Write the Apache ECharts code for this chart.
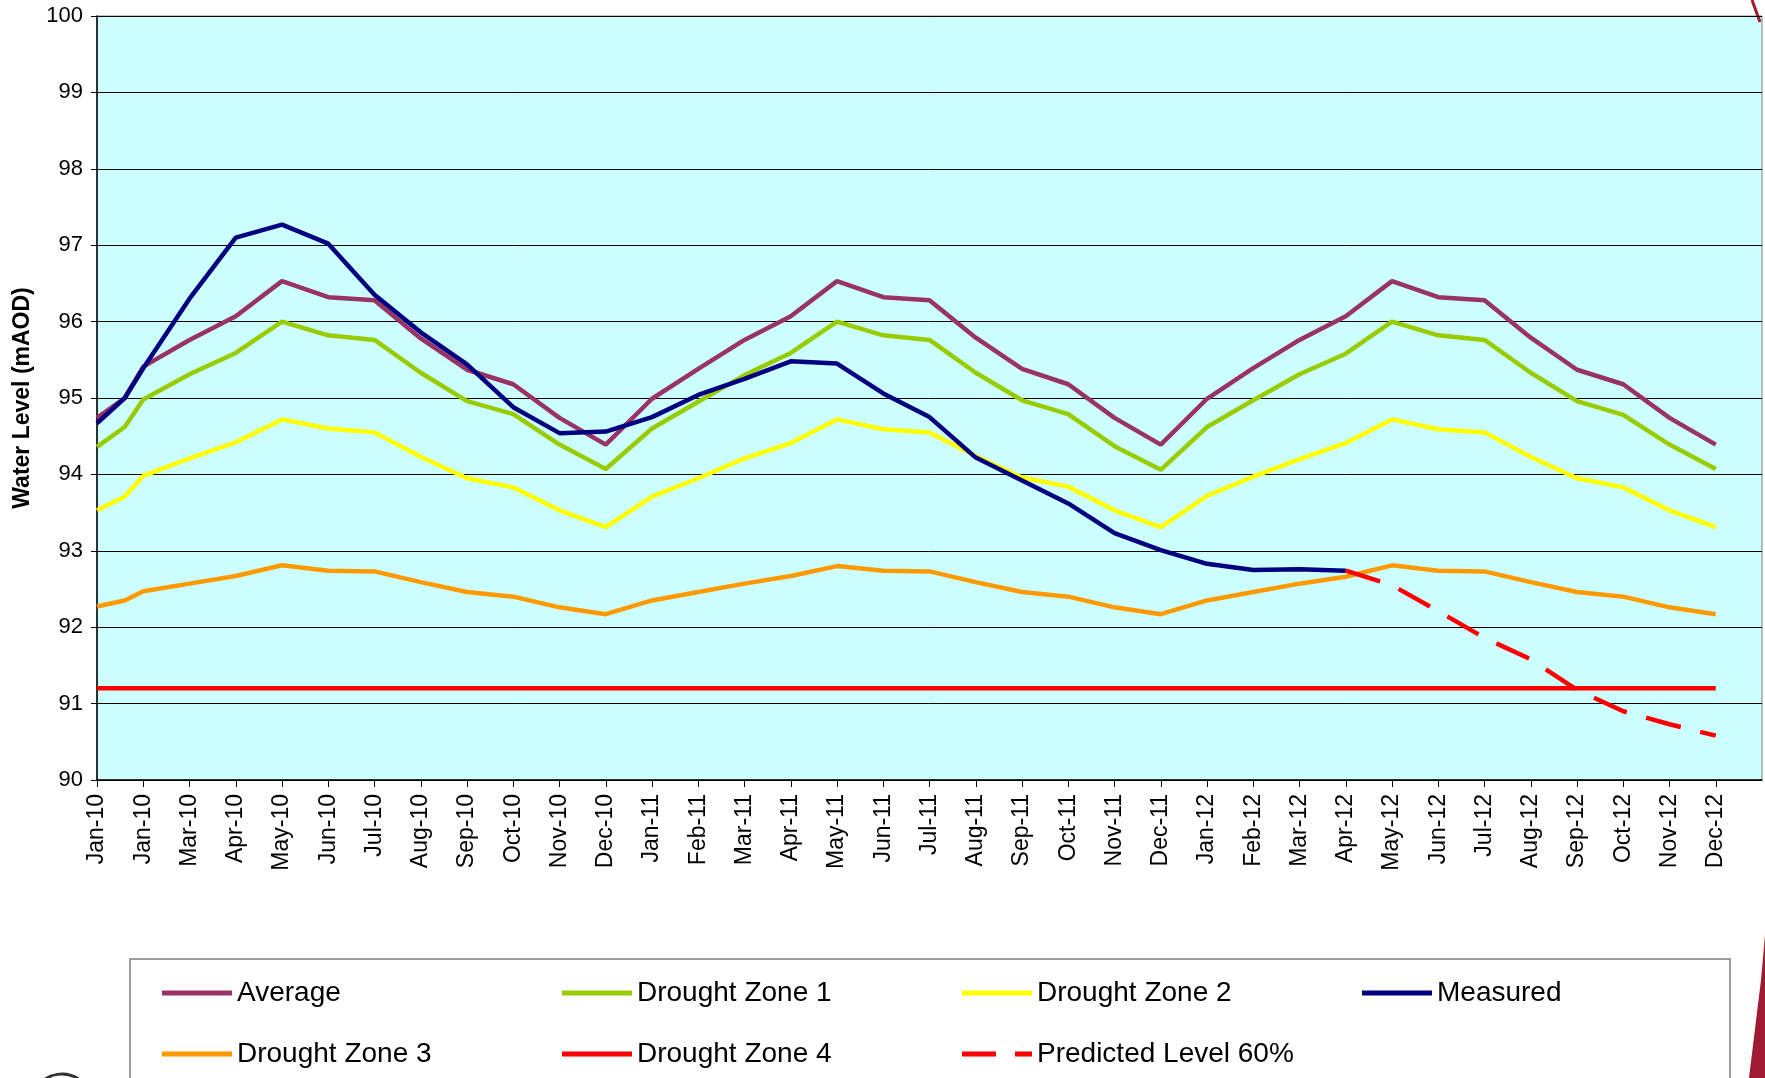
<!DOCTYPE html>
<html>
<head>
<meta charset="utf-8">
<script src="https://cdn.jsdelivr.net/npm/echarts@6/dist/echarts.min.js"></script>
<style>
body{margin:0;background:#fff;}
#main{width:1765px;height:1078px;}
</style>
</head>
<body>
<div id="main"></div>
<script>
//x positions in tick steps (0 = first Jan-10 tick)
var xPos = [0, 0.6, 1, 2, 3, 4, 5, 6, 7, 8, 9, 10, 11, 12, 13, 14, 15, 16, 17, 18, 19, 20, 21, 22, 23, 24, 25, 26, 27, 28, 29, 30, 31, 32, 33, 34, 35];
var tickLabels = ['Jan-10','Jan-10','Mar-10','Apr-10','May-10','Jun-10','Jul-10','Aug-10','Sep-10','Oct-10','Nov-10','Dec-10',
	'Jan-11','Feb-11','Mar-11','Apr-11','May-11','Jun-11','Jul-11','Aug-11','Sep-11','Oct-11','Nov-11','Dec-11',
	'Jan-12','Feb-12','Mar-12','Apr-12','May-12','Jun-12','Jul-12','Aug-12','Sep-12','Oct-12','Nov-12','Dec-12'];

var average = [94.74, 95.0, 95.41, 95.76, 96.07, 96.53, 96.32, 96.28, 95.78, 95.37, 95.18, 94.74, 94.39, 94.99, 95.38, 95.76, 96.07, 96.53, 96.32, 96.28, 95.79, 95.38, 95.18, 94.74, 94.39, 94.99, 95.39, 95.76, 96.07, 96.53, 96.32, 96.28, 95.79, 95.37, 95.18, 94.74, 94.39];
var droughtZone1 = [94.36, 94.62, 94.98, 95.31, 95.59, 96.0, 95.82, 95.76, 95.33, 94.96, 94.79, 94.39, 94.07, 94.60, 94.95, 95.30, 95.59, 96.0, 95.82, 95.76, 95.33, 94.97, 94.79, 94.37, 94.06, 94.62, 94.97, 95.31, 95.58, 96.0, 95.82, 95.76, 95.33, 94.96, 94.78, 94.39, 94.07];
var droughtZone2 = [93.53, 93.71, 93.98, 94.21, 94.42, 94.72, 94.60, 94.55, 94.23, 93.95, 93.83, 93.53, 93.31, 93.71, 93.95, 94.21, 94.41, 94.72, 94.59, 94.55, 94.24, 93.96, 93.84, 93.53, 93.31, 93.72, 93.97, 94.20, 94.41, 94.72, 94.59, 94.55, 94.23, 93.95, 93.83, 93.53, 93.31];
var measured = [94.67, 95.0, 95.39, 96.30, 97.10, 97.27, 97.02, 96.35, 95.86, 95.44, 94.88, 94.54, 94.56, 94.75, 95.04, 95.25, 95.48, 95.45, 95.06, 94.75, 94.22, 93.92, 93.62, 93.23, 93.01, 92.83, 92.75, 92.76, 92.74];
var droughtZone3 = [92.27, 92.35, 92.47, 92.57, 92.67, 92.81, 92.74, 92.73, 92.59, 92.46, 92.40, 92.26, 92.17, 92.35, 92.46, 92.57, 92.67, 92.80, 92.74, 92.73, 92.59, 92.46, 92.40, 92.26, 92.17, 92.35, 92.46, 92.57, 92.66, 92.81, 92.74, 92.73, 92.59, 92.46, 92.40, 92.26, 92.17];
var droughtZone4 = [91.2, 91.2, 91.2, 91.2, 91.2, 91.2, 91.2, 91.2, 91.2, 91.2, 91.2, 91.2, 91.2, 91.2, 91.2, 91.2, 91.2, 91.2, 91.2, 91.2, 91.2, 91.2, 91.2, 91.2, 91.2, 91.2, 91.2, 91.2, 91.2, 91.2, 91.2, 91.2, 91.2, 91.2, 91.2, 91.2, 91.2];
var predictedX = [27, 28, 29, 30, 31, 32, 33, 34, 35];
var predicted = [92.74, 92.55, 92.21, 91.86, 91.58, 91.18, 90.90, 90.73, 90.58];

var FONT = "'Liberation Sans', Arial, sans-serif";
var DASH_ICON = 'path://M0,0h34v5h-34zM53,0h17v5h-17z';

//把x位置和数值拼成点
function pairs(xs, ys){
	var arr = [];
	for(var i=0;i<ys.length;i++){
		arr.push([xs[i], ys[i]]);
	}
	return arr;
}

var tickIdx = [];
for(var k=0;k<tickLabels.length;k++) tickIdx.push(k);

function lineSeries(name, xs, ys, color, dash){
	return {
		name : name,
		type : 'line',
		data : pairs(xs, ys),
		symbol : 'none',
		animation : false,
		lineStyle : { color : color, width : 4.5, type : dash || 'solid' },
		itemStyle : { color : color }
	};
}

//图例位置：两行四列
var legendPos = [
	['Average', 162, 979], ['Drought Zone 1', 562, 979], ['Drought Zone 2', 962, 979], ['Measured', 1362, 979],
	['Drought Zone 3', 162, 1040], ['Drought Zone 4', 562, 1040], ['Predicted Level 60%', 962, 1040]
];
var legends = [];
for(var j=0;j<legendPos.length;j++){
	legends.push({
		data : [legendPos[j][0]],
		left : legendPos[j][1],
		top : legendPos[j][2],
		padding : 0,
		icon : legendPos[j][0]=='Predicted Level 60%' ? DASH_ICON : 'rect',
		itemWidth : 70,
		itemHeight : 5,
		selectedMode : false,
		textStyle : { fontSize : 28, color : '#000', fontFamily : FONT }
	});
}

var myChart = echarts.init(document.getElementById('main'));
myChart.setOption({
	backgroundColor : '#fff',
	animation : false,
	legend : legends,
	grid : {
		left : 97, top : 16, width : 1665, height : 764,
		show : true, backgroundColor : '#CCFFFF', borderColor : '#808080', borderWidth : 1
	},
	xAxis : {
		type : 'value',
		min : 0, max : 36, interval : 1,
		axisLine : { lineStyle : { color : '#000', width : 1.5 } },
		axisTick : { show : true, length : 7, customValues : tickIdx, lineStyle : { color : '#000' } },
		splitLine : { show : false },
		axisLabel : {
			customValues : tickIdx,
			rotate : 90,
			margin : 14,
			fontSize : 23,
			color : '#000',
			fontFamily : FONT,
			formatter : function(v){ return tickLabels[Math.round(v)] || ''; }
		}
	},
	yAxis : {
		type : 'value',
		min : 90, max : 100, interval : 1,
		name : 'Water Level (mAOD)',
		nameLocation : 'middle',
		nameGap : 63,
		nameTextStyle : { fontSize : 23, fontWeight : 'bold', color : '#000', fontFamily : FONT },
		axisLine : { show : true, lineStyle : { color : '#000', width : 1.5 } },
		axisTick : { show : true, length : 6, lineStyle : { color : '#000' } },
		splitLine : { show : true, lineStyle : { color : '#000', width : 1 } },
		axisLabel : { margin : 14, fontSize : 22, color : '#000', fontFamily : FONT }
	},
	graphic : [
		{ type : 'rect', shape : { x : 130, y : 959, width : 1600, height : 140 },
			style : { fill : 'none', stroke : '#7f7f7f', lineWidth : 1.5 } },
		{ type : 'polygon', shape : { points : [[1765, 935], [1765, 1078], [1749, 1078], [1761, 980]] },
			style : { fill : '#9E1B32' } },
		{ type : 'line', shape : { x1 : 1752, y1 : 0, x2 : 1760, y2 : 22 },
			style : { stroke : '#9E1B32', lineWidth : 3 } },
		{ type : 'arc', shape : { cx : 62, cy : 1104, r : 30, startAngle : Math.PI * 1.2, endAngle : Math.PI * 1.8 },
			style : { stroke : '#333', lineWidth : 3, fill : 'none' } }
	],
	series : [
		lineSeries('Average', xPos, average, '#993366'),
		lineSeries('Drought Zone 1', xPos, droughtZone1, '#99CC00'),
		lineSeries('Drought Zone 2', xPos, droughtZone2, '#FFFF00'),
		lineSeries('Measured', xPos, measured, '#000080'),
		lineSeries('Drought Zone 3', xPos, droughtZone3, '#FF9900'),
		lineSeries('Drought Zone 4', xPos, droughtZone4, '#FF0000'),
		lineSeries('Predicted Level 60%', predictedX, predicted, '#FF0000', [36, 20])
	]
});
</script>
</body>
</html>
